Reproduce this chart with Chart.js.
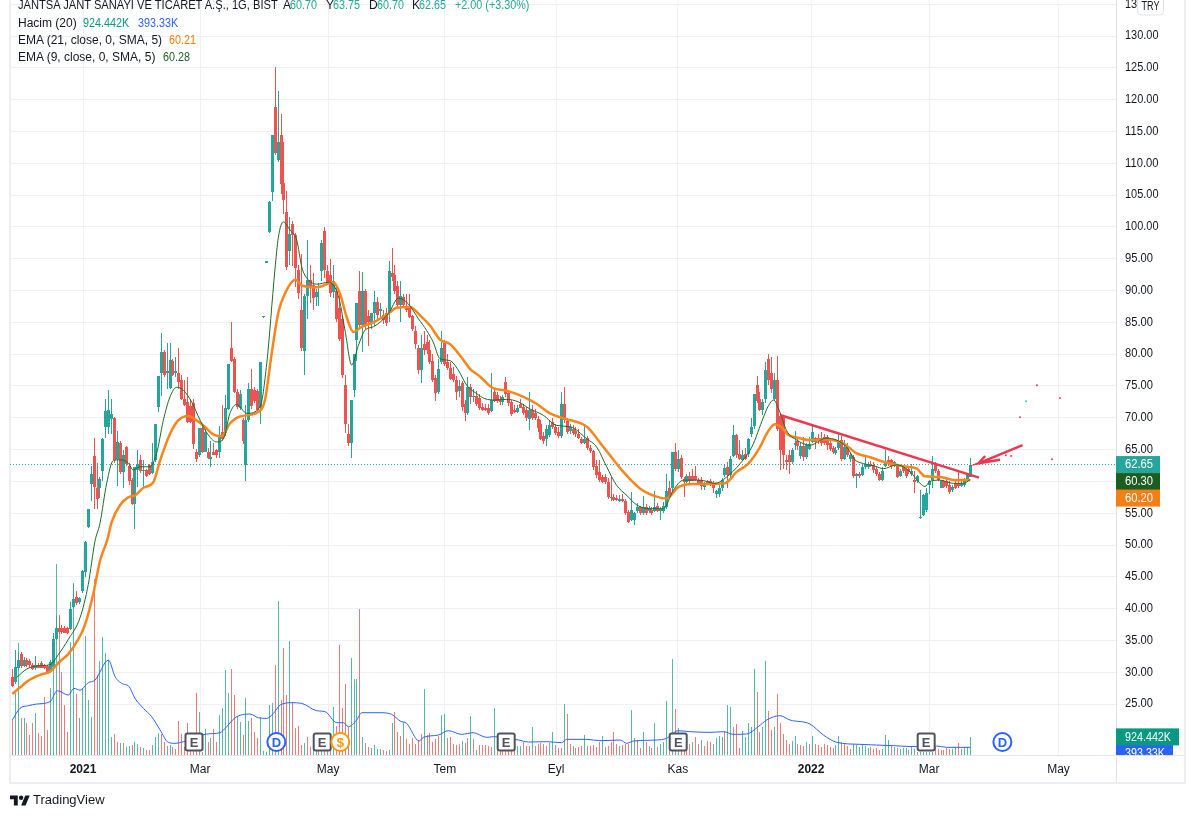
<!DOCTYPE html>
<html lang="tr"><head><meta charset="utf-8"><title>JANTSA</title>
<style>
html,body{margin:0;padding:0;background:#fff;}
#wrap{position:relative;width:1188px;height:817px;overflow:hidden;font-family:"Liberation Sans",Arial,sans-serif;font-size:12px;color:#131722;}
canvas{position:absolute;left:0;top:0;}
.t{position:absolute;white-space:pre;line-height:14px;transform-origin:left center;}
.up{color:#26a69a}
.n{transform:scaleX(.9);}
</style>
<script src="https://cdn.jsdelivr.net/npm/chart.js@4/dist/chart.umd.min.js"></script>
</head><body>
<div id="wrap">
<canvas id="c" width="1188" height="817"></canvas>
<div class="t" style="left:18px;top:-2px;transform:scaleX(.928)">JANTSA JANT SANAYI VE TICARET A.Ş., 1G, BIST</div>
<div class="t" style="left:283px;top:-2px">A</div><div class="t up n" style="left:290px;top:-2px">60.70</div>
<div class="t" style="left:326px;top:-2px">Y</div><div class="t up n" style="left:333px;top:-2px">63.75</div>
<div class="t" style="left:369px;top:-2px">D</div><div class="t up n" style="left:377px;top:-2px">60.70</div>
<div class="t" style="left:412px;top:-2px">K</div><div class="t up n" style="left:419px;top:-2px">62.65</div>
<div class="t up n" style="left:455px;top:-2px">+2.00 (+3.30%)</div>
<div class="t" style="left:18px;top:16px">Hacim (20)</div>
<div class="t n" style="left:83px;top:16px;color:#089981">924.442K</div>
<div class="t n" style="left:138px;top:16px;color:#2962ff">393.33K</div>
<div class="t" style="left:18px;top:33px">EMA (21, close, 0, SMA, 5)</div>
<div class="t n" style="left:169px;top:33px;color:#f57c00">60.21</div>
<div class="t" style="left:18px;top:50px">EMA (9, close, 0, SMA, 5)</div>
<div class="t n" style="left:163px;top:50px;color:#1b5e20">60.28</div>
<svg style="position:absolute;left:10px;top:793px" width="20" height="16" viewBox="0 0 36 28"><path fill="#131722" d="M14 22H7V11H0V4h14v18zM28 22h-8l7.5-18h8L28 22z"/><circle fill="#131722" cx="20" cy="8" r="4"/></svg>
<div class="t" style="left:33px;top:793px;font-size:13px">TradingView</div>
</div>
<script>
// Price scale ticks and time scale labels
const priceTicks = [25,30,35,40,45,50,55,60,65,70,75,80,85,90,95,100,105,110,115,120,125,130,135];
const timeTickIndex = [24.2,64.3,108.1,148.1,186.2,227.9,273.5,313.9,358.2];
const timeTickLabels = ['2021','Mar','May','Tem','Eyl','Kas','2022','Mar','May'];

// Daily candles
const opens = [
29.3,28.4,30.7,32.8,31,31.9,31.7,31.2,30.6,31.2,31.5,31.1,31,30,30.8,35.2,37,36.9,36.9,36.9,
36.8,40.2,41.8,41,42.8,45.8,52.9,59.6,64,58.9,58.9,61.6,68.5,68.6,69.8,69.9,63.6,66.1,61.5,65.4,
62.4,60.3,56.5,61.8,63.3,61.6,61.8,62.6,61.3,63.4,71.7,77,80.3,77,74.7,79,77,77.1,76,73,
72.5,71.8,72.3,64.6,64.1,68.4,64.7,64.7,63.5,64.7,65,64.6,67.8,67.6,71.4,80.9,79.3,74.1,71.5,69.7,
62.6,69.7,74.6,74.4,74.2,71.5,85.8,94.4,99.2,105.5,118.8,110.5,114.4,106.9,102.3,96.2,100.5,98.7,93.2,86.9,
80.5,89.2,91.6,90.9,89,90.4,93,99.4,93,92.5,89.8,90,87.2,85.6,75.1,67.5,66,74.3,82.3,90,
84.6,90,86,84.7,86.4,88.2,86.8,86.2,86.4,86.6,92.8,92.4,90.7,87.7,89,87.6,87.2,86,83.7,80.9,
77.5,81.6,81.9,80.6,79,76.3,74.1,78.8,81.8,78.7,77.9,76.9,75.9,74.2,75.4,72.2,70.8,74.9,73.3,73.4,
73.1,71.7,71.6,71.6,71.1,74,73.6,72.8,72.5,75.6,73.9,72.5,71.3,70.9,72.2,71.7,71.2,69.8,71.2,70.7,
69.8,69.1,67.2,66.7,67.3,69.3,68.6,67.8,67.1,72.1,69.5,67.9,68.2,67.9,67.5,66.7,66.1,66.8,65.3,64.8,
62.5,61.5,60.7,60.7,59.9,57.6,57.5,57.4,57,57.3,56.9,55.2,53.9,53.9,55.4,56,55,56,55.3,55.5,
55.4,56.1,55.3,55.4,56,58.9,58.9,64.6,62,63.7,60.4,59.9,60.9,60.9,60.9,60.2,60.3,59.2,60,60,
59.7,58,58,58.9,61,62.3,61,64,67.3,64.3,63.4,64.3,64.3,67.4,68.7,75.2,73,71.3,73,79.3,
77,73,75.9,70.3,70.2,63.3,64.1,63.1,65.8,66.4,64,65.6,63.9,65.1,66.2,66.8,66.8,66.8,67,67,
66.1,65.2,64.4,65.2,66.5,63.5,65.4,63.5,63.9,60.8,61.2,61,62.2,62.2,62.8,62.6,62,61.1,60.2,62.5,
63.4,63.3,62.4,62.4,60.9,62.2,62,62,61.2,60.3,60,54.3,54.7,55.5,59.5,60.3,62.8,61.7,59,60,
60.1,59.5,58.6,59.7,59.8,59.3,59.5,60.1,60.7];
const highs = [
30.5,33.5,33.2,33.2,32.4,32.2,32.1,31.5,32.5,31.5,31.7,31.3,31.2,32,36.2,38.8,38.7,37.5,37.2,37.1,
41,43.9,42.8,41.9,46,50.7,55.6,62.5,66.9,62.9,60.7,66.8,73,74.3,73,70.1,68,66.3,64.9,65.6,
62.9,60.5,62.3,65,64.2,63.4,62,62.7,66,69,76.5,83.4,80.6,81.8,81.8,79.2,79.6,81,76.7,76,
76.4,73,73,65.1,68.4,68.7,68.4,65.2,66.3,66,65.1,68.7,72,73.6,78.5,85,79.5,74.6,74.4,70,
72,75.5,77.6,74.8,74.5,78.8,86,94.7,104,114.4,125.1,121.3,117.8,113.3,105.7,101.6,101,99,94,95.7,
89.5,98,94,92.7,90.3,91.2,98,100,94,95,94,91,89.5,86,76.7,69,72.8,80,88,93,
92.9,90.3,87,86.5,90,89,88,87,87.2,94.6,96.7,94,91.5,91.5,89.5,89.5,89.5,86.2,84.4,81.5,
83,83.6,83,82.2,80,76.7,79.3,83.6,82.3,80,78.7,78,76.5,76,75.8,72.8,76.4,75.3,74.5,74.2,
73.8,72.3,72.2,72.2,77.1,74.5,74,73.5,73.6,76.4,74.2,72.8,72,72,73,72.2,71.7,74,72,71.4,
70.3,69.6,67.8,68.8,69.5,69.9,69,68.5,74,74.8,70,69,68.8,68.5,68.2,67,68.8,67.2,65.8,65,
63.3,63.3,61,61.2,60.5,60.7,58,57.8,57.8,58,57.3,55.5,58.4,55.2,56.6,56.2,57.7,56.5,56.2,56,
58.5,56.6,56,56.7,61.1,60,64.6,66,65,64.2,60.7,61.2,61.5,62,62.5,60.6,60.7,59.9,60.3,60.4,
60.1,58.7,59.5,60.5,62.8,63,64,68.9,67.5,66.5,65,65.2,66.8,69.9,73.7,76.6,74,73,78.8,80,
79.6,77,79.7,70.6,70.5,64.2,64.9,65.2,68,66.7,66.2,67,66,67,68.8,67,67.4,67.8,67.5,67.3,
66.5,65.5,65.4,67.7,67.2,66.5,66.1,64.5,64.2,61.3,61.5,62.8,63.9,63,63.2,63,62.3,61.5,62.2,65,
64,63.6,63.2,62.7,62,62.5,62.4,62.5,62.8,61.7,61,58.6,58,59,60.3,64,63,61.9,60.2,60.3,
60.4,60,59.4,60.1,61.8,60.2,60.5,61.2,63.75];
const lows = [
27.7,28.2,30.3,30.7,30.8,30.9,30.6,30.4,30.4,30.6,30.6,30.5,29.9,29.9,30.5,35,36,36,36.1,36,
36.6,39.9,40.6,40.7,42.5,45,52.7,57,55.7,55.7,57.4,60,66.8,67.5,67.5,62.9,59.3,61.2,58.9,62.5,
59.4,56.3,52.5,59.1,61.4,59.1,60.7,61,61.1,63.1,70.9,73.4,76.4,74.5,74.5,76.5,76.4,74.6,72.8,71.8,
69.2,69.2,65.1,63,63.9,64.5,64.6,63.5,62.2,64.1,63.7,63.7,66.4,67.2,71.2,78.7,73.9,71.4,71.2,65.9,
60,69.4,71.4,72.3,71,69,85.7,94.3,99,104,111.3,110.2,105.2,102,93.2,94,93.9,90.5,88.7,80.5,
76.8,85.6,88,87,87.6,87.6,91.5,92,90.8,89,88.8,85,82,76.2,67.6,65.6,63.7,73.3,79,84.2,
80.3,84,81.3,84,84.5,85.5,85.5,84.7,84.4,85,91.5,89.5,87.4,85,87.5,86.6,85.7,83.6,80.8,76.9,
75.5,79.8,80,78.4,75.7,72.6,73.7,78.4,78.2,77.5,75.9,75.6,72.8,73.3,71,69.5,70.4,72.2,72.5,71.9,
71.2,71,71,70.4,70.9,72.5,72.4,72,72,73.2,71.8,70.3,70.7,70.8,71.5,70.5,69.5,68.1,69.7,69.6,
67.8,66.5,65.9,65.6,67,68.2,67.3,66.8,66.9,69.2,67.5,67.5,67.3,67,66.6,65.9,65.9,65,64.4,61.8,
60.6,59.9,59.7,59.6,57.3,57,57,56.9,56.8,56.7,54.8,53.4,53.8,53.2,55,54.8,54.7,54.8,55,54.8,
55.2,55.2,54,55,55.6,57.4,58.5,61.6,61.5,60.4,57.5,59.7,59.6,60,60,59.5,58.7,58.6,59.4,59.3,
58.2,57.4,57.6,58.5,60.7,59,60.5,63.8,63.7,63.3,63.2,63.4,63.9,67,68.3,72.4,71,70.5,72.3,75.2,
73.9,72.6,68,61.8,61.9,61.8,61.1,62.8,65,65,63.6,63.2,63.5,64.9,66,65.1,65.9,65.5,65.7,65,
64.8,64.3,64.1,65,63.2,63.3,63.8,63.1,60.6,58.9,60.6,60.8,61.9,61.9,62.2,61.4,60.9,60,60,62.2,
62.4,62,62.2,60.5,60.7,61.4,60.6,61.2,60.8,58.2,59.8,54.1,54.6,55.2,58,59,61.3,60,58.9,58.9,
59,58.1,58.4,58.8,59,59.1,59.2,59.9,60.7];
const closes = [
27.9,30.8,32,31,31.9,31.1,31.1,30.5,31.1,30.7,30.7,30.7,30.1,31.6,35.2,37,36.3,36.3,36.2,36.2,
39.9,41.5,40.9,41.7,45.9,50.5,55.6,61.1,59.1,57.3,60.4,66.7,71,71.2,70.6,63.3,66.2,61.5,64.1,62.8,
60.1,56.5,62.3,62.8,61.6,61.8,60.9,61.1,63,69,76.5,80.3,76.7,77.4,79.1,76.7,77.4,75.6,73,72,
69.4,69.4,65.9,63.6,68.4,64.7,67.8,63.7,63.9,64.2,64.1,67,66.7,71.6,78.5,78.9,74.1,71.7,73.7,66.3,
69.7,74.6,71.9,72.7,71.2,78.8,86,94.6,103.9,114.4,111.6,113.3,106.8,104.2,93.7,98.9,98.7,93.5,89.6,81,
89.2,91.7,90.4,88.9,89.8,90.7,97.4,93.2,91.3,89.6,91.5,85.6,82.4,76.7,69.1,66,72.8,80,88,84.6,
89.9,84.6,85,86.4,88.2,86.2,87.1,85.3,84.9,93,92.2,90,87.7,89.1,87.7,86.9,85.9,83.9,81.6,77.5,
81,80.7,80.6,78.8,76,73.9,77.7,81,78.5,77.9,76.1,75.9,74.1,75,71.7,70.7,74.8,73.2,73.4,72.1,
71.5,71.2,71.2,70.8,72.8,72.7,72.6,72.5,73.2,73.8,72.3,70.6,70.9,71.6,71.6,70.8,69.9,71.2,69.9,69.9,
68.4,66.7,66.4,68.2,68.8,68.6,67.6,67.2,72.1,69.6,67.8,68.5,67.6,67.4,66.8,66.1,66.7,65.3,64.8,62.3,
61,60.2,59.9,59.9,57.6,57.4,57.1,57.1,57.3,56.9,55,53.6,55.5,55,56,55.1,56,55,55.8,55,
56,55.4,55.6,56.2,58.5,57.6,64.6,62,63.5,60.7,59.9,60.9,60.1,60.1,60.2,59.8,59.3,59.8,59.7,59.7,
59,58.5,59,60.3,62.1,61,63.6,67.3,64.1,63.5,64.2,63.6,66.7,68.6,73.7,72.7,71.3,72.5,77.5,75.9,
74.5,75.9,68.3,64.9,64.1,63,63,65,66,65.5,65.6,63.8,65.8,65.9,67.8,66.2,66.5,66.1,66.1,65.7,
65.1,64.6,65,66.2,63.6,65.4,64.1,64.1,60.8,61.2,60.9,62.3,62.8,62.6,62.4,61.8,61.1,60.2,61.7,63,
62.8,62.4,63,60.7,61.6,61.6,60.8,61.5,61.6,59.9,60.8,54.4,57.9,58.2,60,61.9,61.7,60.3,60,59.2,
59.3,58.3,59.2,59,59.3,59.8,60.2,61,62.65];

// Volume, in units of about 17K shares, and whether the bar is rising (1) or falling (0)
const volumeUnits = [
105,185,335,110,110,95,60,97,125,67,57,175,75,200,285,573,420,250,150,70,
340,515,183,110,200,357,165,115,527,240,283,354,305,285,55,63,38,35,35,25,
27,30,40,33,23,20,15,15,30,55,65,63,40,27,30,25,18,102,63,25,
97,45,40,186,130,10,78,40,52,78,40,120,140,255,187,258,180,115,100,60,
172,103,112,70,52,115,12,10,150,155,270,462,165,322,180,343,160,80,87,30,
37,55,25,30,20,45,45,50,40,35,145,87,330,142,213,85,292,228,228,438,
55,35,25,20,30,18,18,15,12,15,95,128,70,57,100,48,33,51,33,45,
63,198,60,66,40,48,58,120,123,50,55,33,30,33,42,37,51,117,48,15,
30,30,30,27,25,141,35,30,30,30,30,25,25,27,27,40,27,27,84,27,
33,36,33,27,35,69,30,21,21,153,123,33,27,21,24,27,60,27,27,30,
24,39,57,24,27,39,69,33,27,30,33,33,135,51,45,21,69,39,27,21,
96,24,33,39,162,25,288,138,80,25,30,30,33,39,54,33,45,27,42,39,
33,51,57,54,72,150,144,84,93,21,72,54,96,84,258,189,69,85,282,132,
75,85,183,97,63,45,33,42,57,33,30,27,38,32,57,33,29,24,33,30,
24,21,30,57,38,35,27,18,33,30,24,29,27,21,24,18,21,15,18,60,
45,27,24,21,18,21,21,14,24,18,10,10,10,10,10,10,25,18,15,15,
21,18,18,21,36,18,24,24,54];
const volumeUp = [
0,1,1,0,1,0,0,0,1,0,0,0,0,1,1,1,0,0,0,0,
1,1,0,1,1,1,1,1,0,0,1,1,1,1,1,0,0,1,0,1,
1,0,1,1,0,1,0,0,1,1,1,0,0,1,1,0,0,0,0,0,
0,0,0,0,1,0,1,0,1,0,0,1,1,1,1,0,0,1,1,0,
1,1,0,0,0,1,1,1,1,1,0,1,0,0,0,1,0,0,0,0,
1,0,0,1,1,0,1,0,1,0,1,0,0,0,0,0,1,1,1,0,
1,0,0,1,1,1,1,0,0,1,1,0,0,0,1,0,0,0,0,0,
0,1,0,0,0,0,0,1,1,0,0,0,0,0,1,0,0,1,0,1,
0,0,0,0,0,1,0,0,0,0,0,0,0,1,1,0,0,0,1,0,
0,0,0,0,1,1,0,0,0,1,0,0,1,0,0,0,1,0,0,0,
0,0,1,0,0,0,0,0,1,0,0,0,1,1,0,0,1,0,1,0,
1,0,1,1,1,0,1,0,1,0,0,0,0,1,0,0,1,0,0,0,
1,1,1,1,0,1,1,0,0,0,1,1,1,1,1,0,0,1,1,0,
0,1,0,0,0,0,0,1,1,0,0,0,1,0,1,0,0,0,0,0,
0,0,1,1,0,0,0,0,1,1,1,1,1,1,0,0,0,0,1,1,
1,0,1,0,1,1,1,0,1,1,0,1,1,1,1,1,0,0,0,0,
0,0,1,1,0,1,1,1,1];

// Lines at these bar positions
const ema21Idx = [0,2.6,5.5,9.5,12.9,15.8,19.2,22.6,24.9,27.7,30,32.5,34,36.9,39.7,42,44.9,48.3,50.6,54,56.8,60.3,63.1,65.4,68.8,71.7,74.5,78,84.2,86.5,88.8,91.1,93.4,96.8,99.1,104.2,109.9,112.2,114.5,116.8,119.6,123.6,128.8,131.6,136.1,139.6,143,146.4,149.8,153.3,156.7,160.1,164.1,169.8,175,179.5,184.1,188.7,196.7,202.4,209.2,214.9,220.6,224,228,233.2,238.9,244,248,252,256,258.3,261.1,263.4,265.7,268.6,273.1,278.8,284.5,289.1,293.7,298.2,305.1,309.7,312.5,317.6,322.8,328];
const ema21Val = [26.6,27.6,28.7,29.6,30.1,31.5,32.9,35.2,37.5,42.3,47.5,50.8,53.6,56.3,57.5,57.8,59,59.9,63.3,67.5,69.6,70.3,69.6,68.8,67.4,67.1,69.1,70.2,70.9,72.8,80.1,86.6,89.6,91.7,90.8,90.5,91.3,89.5,85.8,83.5,84.3,85,86.4,87.3,87.4,86.1,84.5,82.3,81.6,79.8,77.7,76.5,74.8,74.2,73.3,72.2,70.7,69.9,68.6,65.4,61.5,58.9,57.6,57.3,59.1,59.6,59.6,59.7,61.5,62.8,65.4,67.5,69,68.5,67.3,66.9,66.5,66.6,66,64.4,63.8,63.1,62.4,62,60.8,60.7,60.2,60.21];
const ema9Idx = [1.5,4.9,8.3,12.9,15.8,19.2,23.2,26,28.3,30,32.3,34.6,36.9,39.7,41.4,43.7,47.1,49.4,51.7,54,56.3,58.6,61.4,64.3,67.1,70,72.3,74.5,76.8,80.3,84.8,87.1,89.9,91.1,92.8,95.1,97.4,99.1,100.2,104.2,108.2,111.6,113.9,116.2,118.5,120.8,123.6,128.8,132.2,135.6,139,141.9,144.1,146.4,149.8,152.7,155.6,159,161.8,165.3,169.3,173.3,177.2,181.8,186.4,191,196.7,200.1,203.5,206.9,210.4,213.8,218.3,222.9,226.3,229.8,235.5,240.6,244.6,249.2,253.2,257.2,258.9,260.6,262.8,265.1,268.6,273.1,278.8,285.7,288.5,291.4,295.4,298.2,302.8,307.4,310.8,312.5,314.2,317.6,322.2,325.6,328];
const ema9Val = [29.2,30.5,31,31.2,32.8,35.2,38.6,43.8,50.6,53.4,59.7,63.3,63.4,62.9,61.8,62.3,62.3,64.4,69.6,73.3,74.8,74.3,72.5,69.6,67.3,66.2,66.7,70.7,72.1,70.7,71.7,78.5,93.2,98.4,100.8,99.5,97.9,93.7,92.4,91,91.3,89.2,83.8,78.3,81.4,83.8,84.3,86.4,88.8,87.9,85.6,83.7,81.9,79.3,79,77.5,75.1,73.8,73,72.8,72.9,72.5,71.4,70.4,68.8,68.6,66.7,65.4,62.3,59.4,57.8,56.3,55.7,55.7,58.6,60.2,60.2,59.7,60.7,62.8,65.4,70.1,71.9,72.8,70.9,68,66.5,65.7,66.8,65.4,63.4,62.8,62.4,62,62.6,61.5,59.7,59.2,60,60.2,59.7,59.7,60.28];
const volMaIdx = [0,2.6,5.5,8.3,12.9,15.4,19.2,21.1,23.2,26,28.3,32.9,35.2,38,39.7,42,44.9,47.7,50.6,53.4,55.7,58.6,66.6,71.1,73.4,76.3,81.4,84.2,87.1,89.4,91.7,95.7,99.1,104.2,107.1,111.1,113.4,115.1,117.9,119.6,125.9,129.9,132.8,135,139.3,140.7,145.9,149.3,153.8,157.8,162.4,164.7,173.3,176.7,183,188.1,189.8,196.7,201.2,208.1,210.4,212.6,220.6,224,228,232,238.9,243.5,246.9,251.4,255.4,258.3,262.8,266.3,273.1,277.7,282.3,290.2,301.7,309.7,316.5,319.9,328];
const volMaVal = [105,140,148,153,160,193,180,200,195,217,225,285,235,213,208,170,140,115,75,38,35,40,63,67,85,112,123,112,110,125,150,157,155,133,130,97,97,85,105,127,127,122,102,95,42,53,60,73,62,67,53,55,45,39,40,37,47,47,43,45,35,42,45,50,73,70,68,70,62,63,85,105,118,105,93,60,38,32,28,25,27,23,23];

// Drawing tools on the chart
const trendIdx = [263.1,331];
const trendPrice = [70.4,60.6];
const arrowIdx = [345.9,330.8,338.2,330.8,333.1];
const arrowPrice = [65.7,62.85,63.4,62.85,64];
const redDotIdx = [350.8,345,358.7,340.2,342,356];
const redDotPrice = [75.1,70.1,73.1,64.1,64,63.5];
const cyanDotIdx = [347.1];
const cyanDotPrice = [72.6];

// Event markers (bar positions)
const earningsIdx = [62.2,106.1,169.1,228,312.9];
const dividendIdx = [90.4,339];
const splitIdx = [112.3];

// Last values shown on the axis
const lastPrice = 62.65, lastEma9 = 60.30, lastEma21 = 60.20;
const lastVolUnits = 54.4, lastVolMaUnits = 23.1;

const UP='#26a69a', DOWN='#ef5350', GRID='#eef0f4', LINE='#e0e3eb', FRAME='#eceef4';
const FONT='"Liberation Sans",Arial,sans-serif';
const pts=(xs,ys)=>xs.map((x,i)=>({x,y:ys[i]}));
const idx=opens.map((_,i)=>i);
const lineBase={type:'line',pointRadius:0,tension:0,fill:false,xAxisID:'x',yAxisID:'y'};
const barBase={type:'bar',grouped:false,inflateAmount:0,borderWidth:0,xAxisID:'x'};

// The reference's price digits are narrower than Liberation Sans: fit them to the same width
const cv=document.getElementById('c'), rawCtx=cv.getContext('2d');
const nativeFill=rawCtx.fillText.bind(rawCtx);
rawCtx.fillText=(t,x,y,m)=>{
 if(m===undefined && /^\d+\.\d\d$/.test(t)) return nativeFill(t,x,y,t.length*5.58);
 return m===undefined?nativeFill(t,x,y):nativeFill(t,x,y,m);
};

const overlay={
 id:'overlay',
 // Settle the library's bar elements on whole pixels so thin bars stay crisp
 afterDatasetsUpdate(ch){
  ch.data.datasets.forEach((d,n)=>{
   if(d.type!=='bar')return;
   ch.getDatasetMeta(n).data.forEach(el=>{
    el.x=Math.floor(el.x)+0.5;
    el.y=Math.round(el.y);
    el.base=Math.round(el.base);
    if(el.y===el.base)el.base=el.y+1;
   });
  });
 },
 beforeDatasetsDraw(ch){
  const g=ch.ctx; g.save();
  g.fillStyle=FRAME;
  g.fillRect(9,0,2,784); g.fillRect(9,782,1177,2); g.fillRect(1184,0,2,784);
  g.fillStyle=LINE;
  g.fillRect(1116,0,1,783); g.fillRect(10,755,1175,1);
  // time grid carries on to the very top of the pane
  g.fillStyle=GRID;
  const X0=ch.scales.x;
  timeTickIndex.forEach(v=>g.fillRect(Math.round(X0.getPixelForValue(v))-.5,0,1,ch.chartArea.top+1));
  g.restore();
 },
 afterDraw(ch){
  const g=ch.ctx, X=ch.scales.x, Y=ch.scales.y, V=ch.scales.y2;
  g.save();
  g.textBaseline='middle';
  // event markers
  const my=742;
  g.textAlign='center';
  earningsIdx.forEach(v=>{const x=X.getPixelForValue(v);
    g.fillStyle='#fff';g.strokeStyle='#50535e';g.lineWidth=2;
    g.beginPath();g.roundRect(x-8.5,my-8.5,17,17,2);g.fill();g.stroke();
    g.fillStyle='#50535e';g.font='bold 13px '+FONT;g.fillText('E',x,my+1);});
  const ring=(v,col,t)=>{const x=X.getPixelForValue(v);
    g.fillStyle='#fff';g.strokeStyle=col;g.lineWidth=2;
    g.beginPath();g.arc(x,my,9,0,Math.PI*2);g.fill();g.stroke();
    g.fillStyle=col;g.font='bold 13px '+FONT;g.fillText(t,x,my+1);};
  dividendIdx.forEach(v=>ring(v,'#2962ff','D'));
  splitIdx.forEach(v=>ring(v,'#ff9800','$'));
  // axis value boxes, stacked below the last price
  g.textAlign='left';
  const box=(yc,w,col,txt,tw)=>{g.fillStyle=col;g.fillRect(1116,yc-8.5,w,17);
    g.fillStyle='#fff';g.font='12px '+FONT;g.fillText(txt,1125,yc+.5,tw);};
  const py=Y.getPixelForValue(lastPrice);
  box(py,44,UP,lastPrice.toFixed(2),28);
  box(py+17,44,'#1b5e20',lastEma9.toFixed(2),28);
  box(py+33.5,44,'#f57f17',lastEma21.toFixed(2),28);
  g.save();g.beginPath();g.rect(1116,0,72,755);g.clip();
  box(V.getPixelForValue(lastVolMaUnits)+6,57,'#2962ff','393.33K',40);
  g.restore();
  box(V.getPixelForValue(lastVolUnits),63,'#089981','924.442K',46);
  // currency button
  g.fillStyle='#fff';g.strokeStyle=LINE;g.lineWidth=1;
  g.beginPath();g.roundRect(1137.5,-4,26,19,4);g.fill();g.stroke();
  g.fillStyle='#131722';g.textAlign='center';g.font='12px '+FONT;g.fillText('TRY',1150.5,7,18);
  g.restore();
 }
};

new Chart(cv,{
 type:'bar',
 plugins:[overlay],
 data:{datasets:[
  {...barBase,label:'Hacim',yAxisID:'y2',order:10,barThickness:1,
   data:pts(idx,volumeUnits),backgroundColor:volumeUp.map(u=>u?'#52b9ab':'#f07a78')},
  {...barBase,label:'Wick',yAxisID:'y',order:9,barThickness:1,
   data:idx.map(i=>({x:i,y:[lows[i],highs[i]]})),backgroundColor:idx.map(i=>closes[i]>=opens[i]?UP:DOWN)},
  {...barBase,label:'Body',yAxisID:'y',order:8,barThickness:3,
   data:idx.map(i=>({x:i,y:[opens[i],closes[i]]})),backgroundColor:idx.map(i=>closes[i]>=opens[i]?UP:DOWN)},
  {...lineBase,label:'Son',order:7,data:pts([-0.8,377.9],[lastPrice,lastPrice]),borderColor:UP,borderWidth:1,borderDash:[1,2]},
  {...lineBase,label:'EMA 21',order:5,data:pts(ema21Idx,ema21Val),borderColor:'#f9851c',borderWidth:2.5,cubicInterpolationMode:'monotone'},
  {...lineBase,label:'EMA 9',order:4,data:pts(ema9Idx,ema9Val),borderColor:'#1f6a2a',borderWidth:1,cubicInterpolationMode:'monotone'},
  {...lineBase,label:'Hacim MA',yAxisID:'y2',order:6,data:pts(volMaIdx,volMaVal),borderColor:'#2962ff',borderWidth:1,cubicInterpolationMode:'monotone'},
  {...lineBase,label:'Trend',order:3,data:pts(trendIdx,trendPrice),borderColor:'#f23650',borderWidth:2.4},
  {...lineBase,label:'Ok',order:3,data:pts(arrowIdx,arrowPrice),borderColor:'#f23650',borderWidth:2.4},
  {...lineBase,label:'Nokta',order:2,showLine:false,pointRadius:1,pointBorderWidth:0,pointBackgroundColor:'#f23650',data:pts(redDotIdx,redDotPrice)},
  {...lineBase,label:'Nokta2',order:2,showLine:false,pointRadius:1,pointBorderWidth:0,pointBackgroundColor:'#26c6da',data:pts(cyanDotIdx,cyanDotPrice)}
 ]},
 options:{
  responsive:false,animation:false,devicePixelRatio:1,
  layout:{padding:{left:10,right:4,top:0,bottom:34}},
  plugins:{legend:{display:false},tooltip:{enabled:false}},
  events:[],
  scales:{
   x:{type:'linear',offset:false,min:-0.8,max:377.9,
    grid:{offset:false,color:GRID,tickLength:0,drawTicks:false},border:{display:false},
    afterBuildTicks(s){s.ticks=timeTickIndex.map(v=>({value:v}));},
    afterFit(s){s.height=28;s.paddingLeft=0;s.paddingRight=0;},
    ticks:{autoSkip:false,maxRotation:0,padding:7,color:'#131722',
     callback(v){const k=timeTickIndex.indexOf(v);return k<0?'':timeTickLabels[k];},
     font(c){const l=c.tick&&c.tick.label;return (l==='2021'||l==='2022')?{family:FONT,size:12,weight:'bold'}:{family:FONT,size:12};}}
   },
   y:{type:'linear',position:'right',min:17.0,max:135.04,
    grid:{color:GRID,drawTicks:false},border:{display:false},
    afterBuildTicks(s){s.ticks=priceTicks.map(v=>({value:v}));},
    afterFit(s){s.width=68;s.paddingTop=0;s.paddingBottom=0;},
    ticks:{padding:9,color:'#131722',font:{family:FONT,size:12},crossAlign:'near',autoSkip:false,
     callback(v){return v.toFixed(2);}}
   },
   y2:{type:'linear',display:false,min:0,max:2255}
  }
 }
});
</script>
</body></html>
